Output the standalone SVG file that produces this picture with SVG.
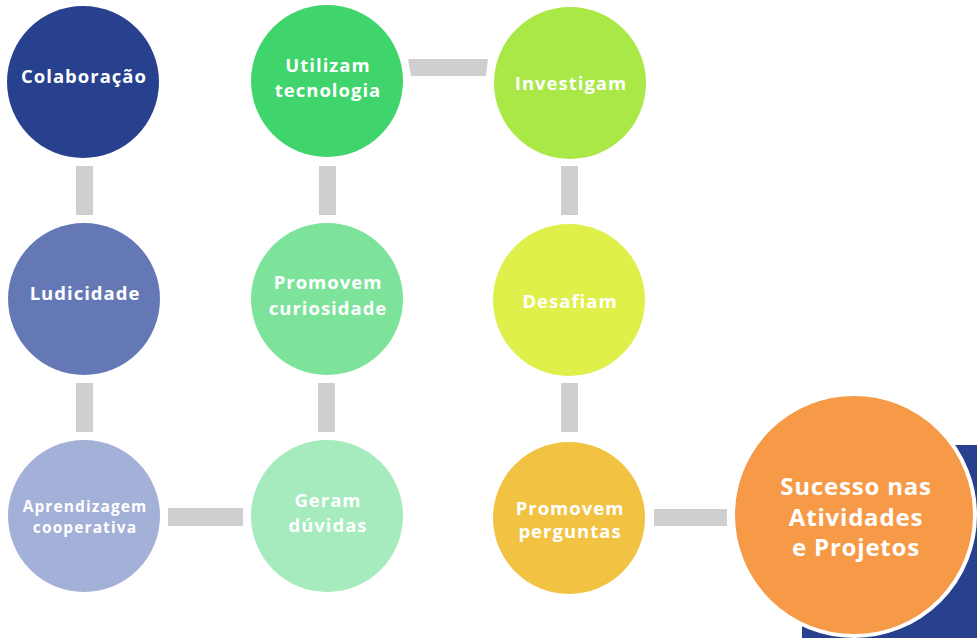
<svg xmlns="http://www.w3.org/2000/svg" width="977" height="638" viewBox="0 0 977 638">
<style>
  .lbl { font-family: "Open Sans", "Liberation Sans", sans-serif; font-weight: 700; fill: #ffffff; text-anchor: middle; font-size: 18.5px; letter-spacing: 1px; }
  .sm { font-size: 15.5px; letter-spacing: 1.1px; }
  .big { font-size: 24px; letter-spacing: 0.8px; }
  .conn { fill: #cfcfcf; }
</style>
<rect width="977" height="638" fill="#ffffff"/>
<g id="connectors">
  <rect class="conn" x="76" y="166" width="17" height="49"/>
  <rect class="conn" x="76" y="383" width="17" height="49"/>
  <rect class="conn" x="319" y="166" width="17" height="49"/>
  <rect class="conn" x="318" y="383" width="17" height="49"/>
  <rect class="conn" x="561" y="166" width="17" height="49"/>
  <rect class="conn" x="561" y="383" width="17" height="49"/>
  <polygon class="conn" points="408,59 488,59 486,76 411,76"/>
  <rect class="conn" x="168" y="508" width="75" height="18"/>
  <rect class="conn" x="654" y="509" width="73" height="17"/>
</g>
<g id="backdrop">
  <rect x="802" y="445" width="200" height="220" rx="22" fill="#27418f"/>
</g>
<g id="colaboracao">
  <circle cx="83" cy="82" r="76" fill="#27418f"/>
  <text class="lbl" x="84" y="83">Colaboração</text>
</g>
<g id="ludicidade">
  <circle cx="84" cy="299" r="76" fill="#6578b6"/>
  <text class="lbl" x="85" y="300">Ludicidade</text>
</g>
<g id="aprendizagem">
  <circle cx="84" cy="516" r="76" fill="#a3b0d7"/>
  <text class="lbl sm" x="85" y="512">Aprendizagem</text>
  <text class="lbl sm" x="85" y="533">cooperativa</text>
</g>
<g id="utilizam">
  <circle cx="327" cy="81" r="76" fill="#40d46c"/>
  <text class="lbl" x="328" y="72">Utilizam</text>
  <text class="lbl" x="328" y="97">tecnologia</text>
</g>
<g id="curiosidade">
  <circle cx="327" cy="299" r="76" fill="#7de39b"/>
  <text class="lbl" x="328" y="289">Promovem</text>
  <text class="lbl" x="328" y="315">curiosidade</text>
</g>
<g id="geram">
  <circle cx="327" cy="516" r="76" fill="#a5ebbd"/>
  <text class="lbl" x="328" y="507">Geram</text>
  <text class="lbl" x="328" y="532">dúvidas</text>
</g>
<g id="investigam">
  <circle cx="570" cy="83" r="76" fill="#a9e847"/>
  <text class="lbl" x="571" y="90">Investigam</text>
</g>
<g id="desafiam">
  <circle cx="569" cy="300" r="76" fill="#dff04a"/>
  <text class="lbl" x="570" y="308">Desafiam</text>
</g>
<g id="perguntas">
  <circle cx="569" cy="518" r="76" fill="#f2c342"/>
  <text class="lbl" x="570" y="515">Promovem</text>
  <text class="lbl" x="570" y="538">perguntas</text>
</g>
<g id="sucesso">
  <circle cx="854" cy="515" r="121" fill="#f69a48" stroke="#ffffff" stroke-width="4"/>
  <text class="lbl big" x="856" y="495">Sucesso nas</text>
  <text class="lbl big" x="856" y="526">Atividades</text>
  <text class="lbl big" x="856" y="556">e Projetos</text>
</g>
</svg>
